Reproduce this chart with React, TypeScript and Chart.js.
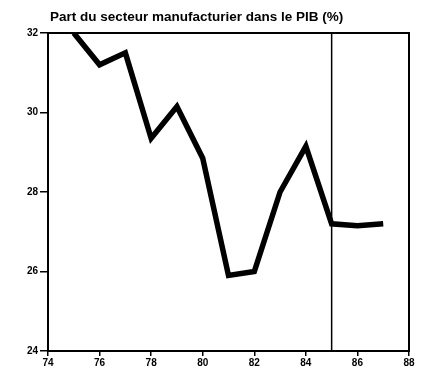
import React, { useEffect, useRef } from "react";
import { Chart, registerables } from "chart.js";

Chart.register(...registerables);

const TITLE = "Part du secteur manufacturier dans le PIB (%)";
const years = [75, 76, 77, 78, 79, 80, 81, 82, 83, 84, 85, 86, 87];
const shares = [32.0, 31.2, 31.5, 29.35, 30.15, 28.85, 25.9, 26.0, 28.0, 29.15, 27.2, 27.15, 27.2];
const xTicks = [74, 76, 78, 80, 82, 84, 86, 88];
const yTicks = [24, 26, 28, 30, 32];
const markerYear = 85;

const framePlugin = {
  id: "frame",
  afterDraw(chart: any) {
    const { ctx, chartArea } = chart;
    const { left, right, top, bottom } = chartArea;
    ctx.save();
    ctx.strokeStyle = "#000";
    ctx.lineWidth = 2;
    ctx.strokeRect(left, top, right - left, bottom - top);
    const xm = chart.scales.x.getPixelForValue(markerYear);
    ctx.beginPath();
    ctx.moveTo(xm, top);
    ctx.lineTo(xm, bottom);
    ctx.lineWidth = 1.5;
    ctx.stroke();
    ctx.fillStyle = "#000";
    ctx.font = "bold 13.5px 'Liberation Sans', Arial, sans-serif";
    ctx.textBaseline = "middle";
    ctx.textAlign = "left";
    ctx.fillText(TITLE, 50, 17);
    ctx.restore();
  },
};

export default function App() {
  const ref = useRef<HTMLCanvasElement>(null);
  useEffect(() => {
    document.body.style.margin = "0";
    const chart = new Chart(ref.current!, {
      type: "line",
      data: {
        datasets: [
          {
            data: years.map((y, i) => ({ x: y, y: shares[i] })),
            borderColor: "#000",
            borderWidth: 5.5,
            pointRadius: 0,
            tension: 0,
            borderJoinStyle: "miter",
            fill: false,
          },
        ],
      },
      options: {
        responsive: false,
        animation: false,
        layout: { padding: { top: 33, right: 13, left: 0, bottom: 0 } },
        plugins: { legend: { display: false }, tooltip: { enabled: false }, title: { display: false } },
        scales: {
          x: {
            type: "linear",
            min: 74,
            max: 88,
            afterBuildTicks: (s: any) => {
              s.ticks = xTicks.map((v) => ({ value: v }));
            },
            afterFit: (s: any) => {
              s.height = 21;
            },
            grid: { drawOnChartArea: false, drawTicks: true, tickLength: 5, color: "#000", lineWidth: 1.5 },
            border: { display: true, color: "#000", width: 2 },
            ticks: {
              color: "#000",
              font: { size: 10, weight: "bold", family: "'Liberation Sans', Arial, sans-serif" },
              padding: 1,
              maxRotation: 0,
              autoSkip: false,
            },
          },
          y: {
            type: "linear",
            min: 24,
            max: 32,
            afterBuildTicks: (s: any) => {
              s.ticks = yTicks.map((v) => ({ value: v }));
            },
            afterFit: (s: any) => {
              s.width = 48;
            },
            grid: { drawOnChartArea: false, drawTicks: true, tickLength: 8, color: "#000", lineWidth: 1.5 },
            border: { display: true, color: "#000", width: 2 },
            ticks: {
              color: "#000",
              font: { size: 10, weight: "bold", family: "'Liberation Sans', Arial, sans-serif" },
              padding: 2,
              autoSkip: false,
            },
          },
        },
      },
      plugins: [framePlugin],
    } as any);
    return () => chart.destroy();
  }, []);
  return (
    <div style={{ width: 422, height: 372 }}>
      <canvas ref={ref} width={422} height={372} style={{ width: 422, height: 372 }} />
    </div>
  );
}
